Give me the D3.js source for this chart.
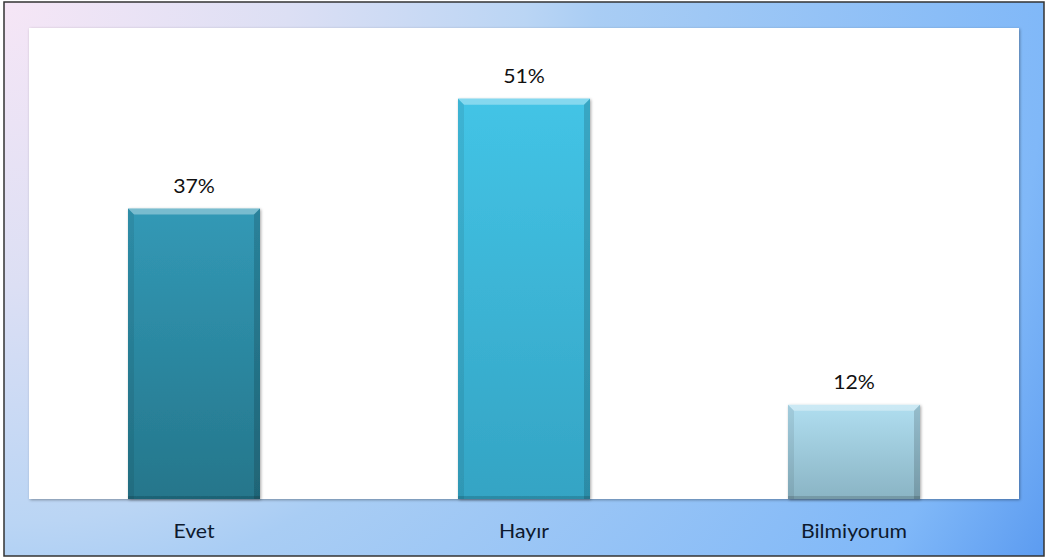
<!DOCTYPE html>
<html><head><meta charset="utf-8">
<script src="https://cdn.jsdelivr.net/npm/d3@7"></script>
<style>body{margin:0;background:#fff}svg{display:block}</style>
</head><body>
<script>
const categories = ["Evet", "Hayır", "Bilmiyorum"];
const values = [37, 51, 12];
const valueLabels = ["37%", "51%", "12%"];
const barTop = ["#3299b6", "#43c4e6", "#b0def0"];
const barBottom = ["#25768b", "#34a4c4", "#8ab4c4"];

const W = 1050, H = 558;
const svg = d3.select("body").append("svg").attr("width", W).attr("height", H);
const defs = svg.append("defs");

const bg = defs.append("radialGradient").attr("id","bg").attr("gradientUnits","userSpaceOnUse")
  .attr("cx",4).attr("cy",2).attr("r",1185).attr("fx",4).attr("fy",2);
[["0","#f6e6f6"],["0.24","#dcdff4"],["0.44","#bad5f4"],["0.5","#a9cdf4"],["0.88","#80b8f8"],["1","#5a9af0"]]
  .forEach(s=>bg.append("stop").attr("offset",s[0]).attr("stop-color",s[1]));

const shadow = defs.append("filter").attr("id","sh").attr("x","-5%").attr("y","-5%").attr("width","110%").attr("height","110%");
shadow.append("feDropShadow").attr("dx",1).attr("dy",1).attr("stdDeviation",1.5).attr("flood-color","#000").attr("flood-opacity",0.35);

categories.forEach((c,i)=>{
  const g = defs.append("linearGradient").attr("id","bar"+i).attr("x1","0").attr("y1","0").attr("x2","0").attr("y2","1");
  g.append("stop").attr("offset","0").attr("stop-color",barTop[i]);
  g.append("stop").attr("offset","1").attr("stop-color",barBottom[i]);
});

svg.append("rect").attr("x",4).attr("y",2).attr("width",1040).attr("height",554)
  .attr("fill","url(#bg)").attr("stroke","#333").attr("stroke-width",1.5);

const plot = {x0:29, x1:1019, y0:28, y1:499};
svg.append("rect").attr("x",plot.x0).attr("y",plot.y0).attr("width",plot.x1-plot.x0).attr("height",plot.y1-plot.y0)
  .attr("fill","#fff").attr("filter","url(#sh)");

const x = d3.scaleBand().domain(categories).range([plot.x0, plot.x1]).paddingInner(0.6).paddingOuter(0.3);
const y = d3.scaleLinear().domain([0,60]).range([plot.y1, plot.y0]);

const bars = svg.append("g");
categories.forEach((c,i)=>{
  const bx = x(c), bw = x.bandwidth(), by = y(values[i]), bh = y(0)-y(values[i]);
  const g = bars.append("g").attr("filter","url(#sh)");
  g.append("rect").attr("x",bx).attr("y",by).attr("width",bw).attr("height",bh).attr("fill","url(#bar"+i+")");
  const b = 6;
  g.append("path").attr("d",`M${bx},${by}L${bx+bw},${by}L${bx+bw-b},${by+b}L${bx+b},${by+b}Z`).attr("fill","#fff").attr("opacity",0.35);
  g.append("path").attr("d",`M${bx},${by}L${bx+b},${by+b}L${bx+b},${by+bh}L${bx},${by+bh}Z`).attr("fill","#000").attr("opacity",0.08);
  g.append("path").attr("d",`M${bx+bw},${by}L${bx+bw-b},${by+b}L${bx+bw-b},${by+bh}L${bx+bw},${by+bh}Z`).attr("fill","#000").attr("opacity",0.15);
  g.append("rect").attr("x",bx).attr("y",by+bh-3).attr("width",bw).attr("height",3).attr("fill","#000").attr("opacity",0.15);
});

svg.append("g").selectAll("text").data(categories).join("text")
  .attr("transform",(d,i)=>`translate(${x(d)+x.bandwidth()/2},${y(values[i])-16}) scale(1.12,1)`)
  .attr("text-anchor","middle").attr("font-family","Lato, 'Open Sans', sans-serif").attr("font-size",19).attr("fill","#111")
  .text((d,i)=>valueLabels[i]);

const xAxis = d3.axisBottom(x).tickSize(0).tickPadding(0);
const ax = svg.append("g").attr("transform",`translate(0,${plot.y1})`).call(xAxis);
ax.select(".domain").remove();
ax.selectAll("text").attr("font-family","Lato, 'Open Sans', sans-serif").attr("font-size",19).attr("fill","#0e1a2e")
  .attr("dy",0).attr("y",0).attr("transform","translate(0,39) scale(1.12,1)");
</script>
</body></html>
